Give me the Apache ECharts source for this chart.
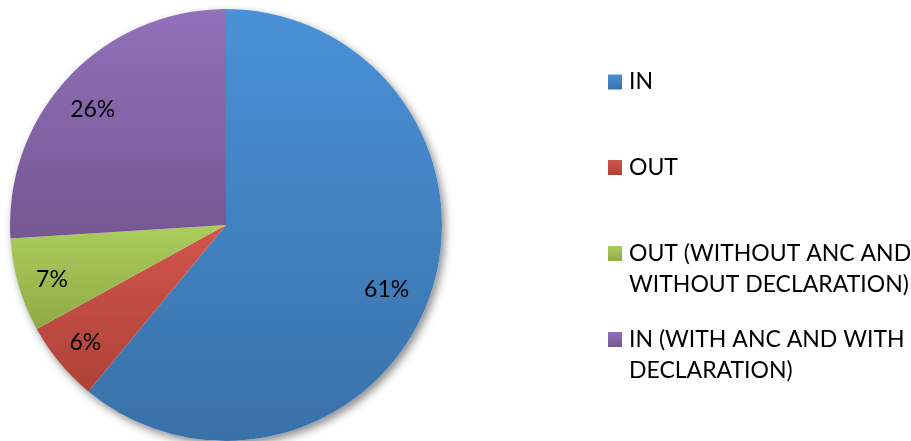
<!DOCTYPE html>
<html>
<head>
<meta charset="utf-8">
<script src="https://cdn.jsdelivr.net/npm/echarts@6/dist/echarts.min.js"></script>
<style>html,body{margin:0;padding:0;background:#fff;}#c{width:911px;height:441px;}</style>
</head>
<body>
<div id="c"></div>
<script>
var categories = ['IN', 'OUT', 'OUT (WITHOUT ANC AND\nWITHOUT DECLARATION)', 'IN (WITH ANC AND WITH\nDECLARATION)'];
var values = [61, 6, 7, 26];
var gradTop = ['#4A91D7', '#D2554C', '#AACD5D', '#9171B9'];
var gradBottom = ['#3971A9', '#AE4238', '#91AA46', '#755792'];

var FONT = 'Lato';
var chart = echarts.init(document.getElementById('c'), null, {renderer: 'canvas'});

function grad(i) {
  return new echarts.graphic.LinearGradient(0, 0, 0, 1, [
    {offset: 0, color: gradTop[i]}, {offset: 1, color: gradBottom[i]}
  ]);
}

var mainData = categories.map(function (n, i) {
  return {name: n, value: values[i], itemStyle: {color: grad(i)}};
});
var labelData = categories.map(function (n, i) {
  return {name: n, value: values[i]};
});

var legendTops = [61.5, 147, 202, 288];
var legends = categories.map(function (n, i) {
  var multi = n.indexOf('\n') >= 0;
  return {
    data: [n],
    orient: 'vertical',
    left: 603,
    top: legendTops[i],
    icon: 'rect',
    itemWidth: 14,
    itemHeight: 15,
    selectedMode: false,
    formatter: function (name) { return multi ? ' \n' + name : name; },
    textStyle: {
      fontFamily: FONT, fontSize: 23, color: '#000', lineHeight: 31,
      padding: [0, 0, 0, 2]
    }
  };
});

chart.setOption({
  animation: false,
  legend: legends,
  series: [
    {
      type: 'pie', silent: true, z: 1,
      center: [226, 225], radius: 216,
      label: {show: false}, labelLine: {show: false},
      itemStyle: {color: '#fff', shadowBlur: 8, shadowOffsetX: 3, shadowOffsetY: 4, shadowColor: 'rgba(0,0,0,0.45)'},
      data: [{name: '_base', value: 1}]
    },
    {
      type: 'pie', silent: true, z: 2,
      center: [226, 225], radius: 216, startAngle: 90, clockwise: true,
      label: {show: false}, labelLine: {show: false},
      itemStyle: {borderWidth: 0},
      data: mainData
    },
    {
      type: 'pie', silent: true, z: 3,
      center: [221, 230], radius: [130, 216], startAngle: 90, clockwise: true,
      itemStyle: {color: 'rgba(0,0,0,0)', borderWidth: 0},
      labelLine: {show: false},
      label: {
        show: true, position: 'inside', fontFamily: FONT, fontSize: 23, color: '#000',
        formatter: function (p) { return p.value + '%'; }
      },
      data: labelData
    }
  ]
});
</script>
</body>
</html>
